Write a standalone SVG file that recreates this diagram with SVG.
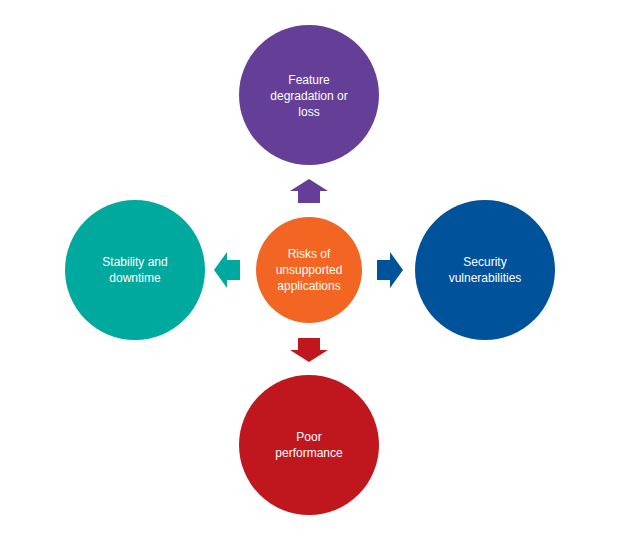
<svg xmlns="http://www.w3.org/2000/svg" width="622" height="544" viewBox="0 0 622 544">
<style>
text{font-family:"Liberation Sans","DejaVu Sans",sans-serif;font-size:12px;fill:#fff;text-anchor:middle}
</style>
<rect width="622" height="544" fill="#fff"/>
<g id="connectors">
<polygon points="309,179 328,191 320,191 320,203 298,203 298,191 290,191" fill="#643e97"/>
<polygon points="214,270 227,252 227,260 240,260 240,280 227,280 227,288" fill="#00a99d"/>
<polygon points="403,270 390,252 390,260 377,260 377,280 390,280 390,288" fill="#00529b"/>
<polygon points="309,362 328,350 320,350 320,338 298,338 298,350 290,350" fill="#c0171f"/>
</g>
<g id="center"><circle cx="309" cy="270" r="53" fill="#f26522"/><text x="309" y="258">Risks of</text><text x="309" y="274">unsupported</text><text x="309" y="290">applications</text></g>
<g id="top"><circle cx="309" cy="95" r="70" fill="#643e97"/><text x="309" y="84">Feature</text><text x="309" y="100">degradation or</text><text x="309" y="116">loss</text></g>
<g id="left"><circle cx="135" cy="270" r="70" fill="#00a99d"/><text x="135" y="266">Stability and</text><text x="135" y="282">downtime</text></g>
<g id="right"><circle cx="485" cy="270" r="70" fill="#00529b"/><text x="485" y="266">Security</text><text x="485" y="282">vulnerabilities</text></g>
<g id="bottom"><circle cx="309" cy="445" r="70" fill="#c0171f"/><text x="309" y="441">Poor</text><text x="309" y="457">performance</text></g>
</svg>
